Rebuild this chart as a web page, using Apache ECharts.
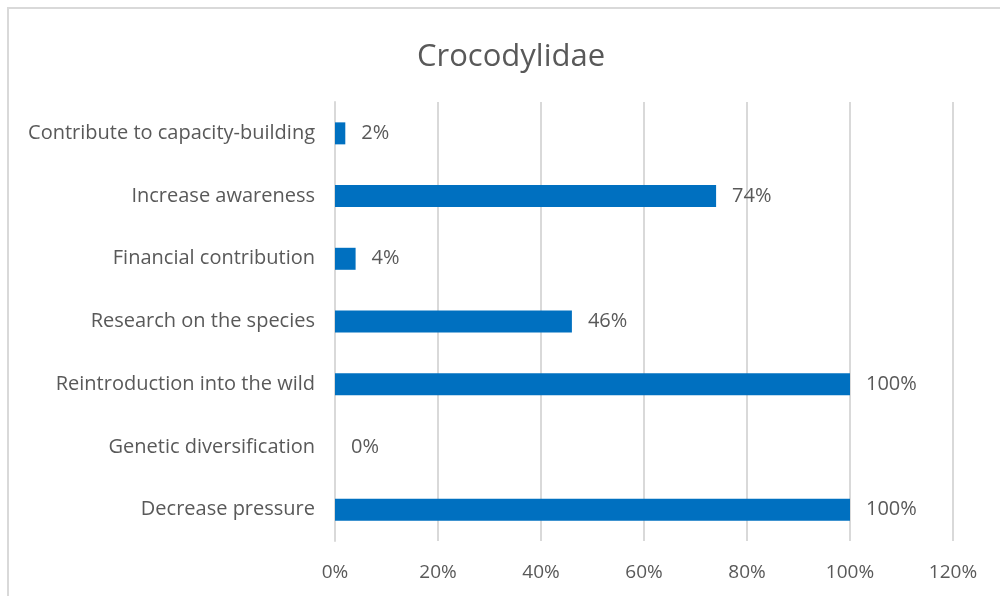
<!DOCTYPE html>
<html>
<head>
<meta charset="utf-8">
<script src="https://cdn.jsdelivr.net/npm/echarts@6/dist/echarts.min.js"></script>
<style>
  html, body { margin: 0; padding: 0; background: #fff; }
  #frame { position: absolute; left: 7px; top: 7px; width: 1000px; height: 600px; border: 2px solid #d9d9d9; box-sizing: border-box; }
  #chart { position: absolute; left: 0; top: 0; width: 1000px; height: 596px; }
</style>
</head>
<body>
<div id="frame"></div>
<div id="chart"></div>
<script>
// Share of actions reported for Crocodylidae, listed bottom-to-top
const categories = [
  'Decrease pressure',
  'Genetic diversification',
  'Reintroduction into the wild',
  'Research on the species',
  'Financial contribution',
  'Increase awareness',
  'Contribute to capacity-building'
];
const values = [100, 0, 100, 46, 4, 74, 2];
const tickMax = 120;
const tickStep = 20;

const font = '"Open Sans", "Noto Sans", sans-serif';
const textColor = '#595959';

const chart = echarts.init(document.getElementById('chart'), null, { renderer: 'canvas' });
chart.setOption({
  backgroundColor: 'transparent',
  animation: false,
  title: {
    text: 'Crocodylidae',
    left: 412,
    top: 37,
    textStyle: { fontFamily: font, fontSize: 31, fontWeight: 'normal', color: textColor }
  },
  grid: { left: 335, right: 47, top: 102, bottom: 55, containLabel: false },
  xAxis: {
    type: 'value',
    min: 0,
    max: tickMax,
    interval: tickStep,
    axisLine: { show: false },
    axisTick: { show: false },
    splitLine: { show: true, lineStyle: { color: '#d9d9d9', width: 2 } },
    axisLabel: {
      formatter: v => v + '%',
      fontFamily: font, fontSize: 19, color: textColor, margin: 22
    }
  },
  yAxis: {
    type: 'category',
    data: categories,
    axisLine: { show: true, lineStyle: { color: '#d9d9d9', width: 2 } },
    axisTick: { show: false },
    axisLabel: { fontFamily: font, fontSize: 20, color: textColor, margin: 20, padding: [3, 0, 0, 0] }
  },
  series: [{
    type: 'bar',
    data: values,
    barWidth: 22,
    itemStyle: { color: '#0070C0' },
    label: {
      show: true,
      position: 'right',
      distance: 16,
      formatter: p => p.value + '%',
      fontFamily: font, fontSize: 20, color: textColor,
      padding: [3, 0, 0, 0]
    }
  }]
});
</script>
</body>
</html>
